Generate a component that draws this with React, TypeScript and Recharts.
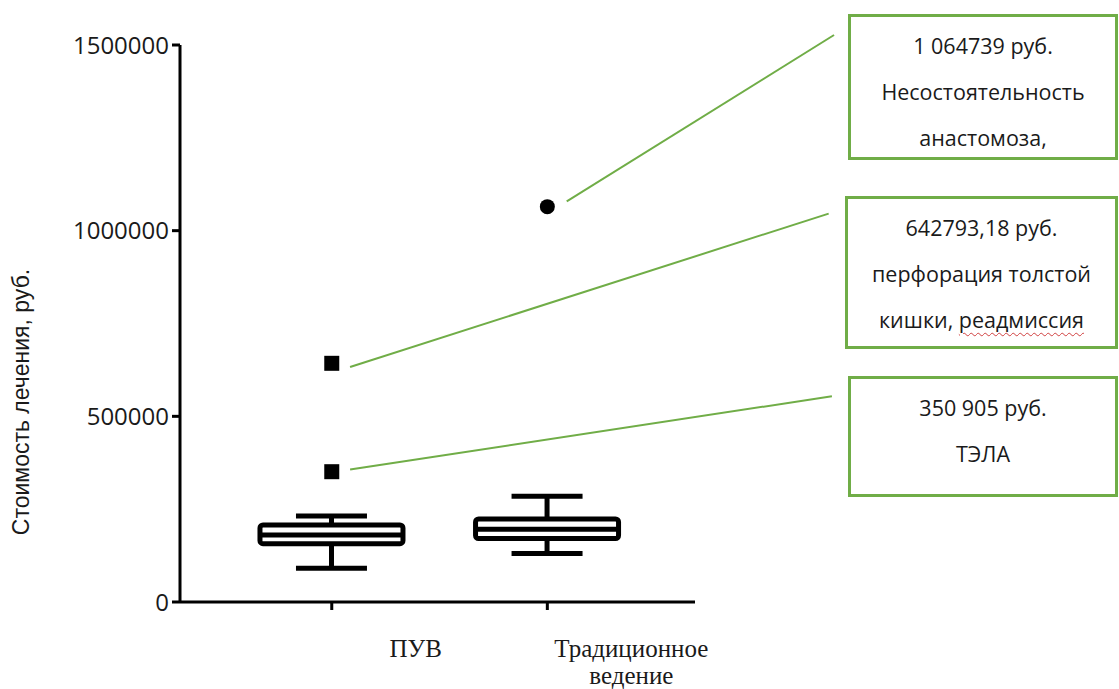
import React from 'react';
import { ComposedChart, XAxis, YAxis, Bar, Scatter, ReferenceLine } from 'recharts';

// Groups on the horizontal axis
const groupPos = [1, 2];
const groupLabels = [['ПУВ'], ['Традиционное', 'ведение']];

// Five-number summaries per group (руб.)
const whiskerLow = [91000, 130500];
const quart1 = [157000, 171000];
const medians = [180500, 196000];
const quart3 = [207500, 223500];
const whiskerHigh = [231500, 284500];

// Outlying cases
const squareOutliers = [642793.18, 350905]; // ПУВ
const circleOutliers = [1064739]; // Традиционное ведение

// Y axis ticks
const yTicks = [0, 500000, 1000000, 1500000];

// Annotation texts for the outliers
const noteLines = [
  ['1 064739 руб.', 'Несостоятельность', 'анастомоза,'],
  ['642793,18 руб.', 'перфорация толстой', 'кишки, реадмиссия'],
  ['350 905 руб.', 'ТЭЛА'],
];

const boxRows = groupPos.map((pos, i) => ({
  pos,
  lo: whiskerLow[i],
  q1: quart1[i],
  med: medians[i],
  q3: quart3[i],
  hi: whiskerHigh[i],
}));

const squareRows = squareOutliers.map((value) => ({ pos: groupPos[0], value }));
const circleRows = circleOutliers.map((value) => ({ pos: groupPos[1], value }));

const GREEN = '#70AD47';
const INK = '#000';

const BoxShape = (props: any) => {
  const { x, y, width, height, payload } = props;
  const top = Math.min(y, y + height);
  const bottom = Math.max(y, y + height);
  const { lo, q1, med, q3, hi } = payload;
  const py = (v: number) => top + ((hi - v) / (hi - lo)) * (bottom - top);
  const cx = x + width / 2;
  const cap = 71;
  const sw = 5;
  return (
    <g stroke={INK} strokeWidth={sw} fill="none">
      <line x1={cx} x2={cx} y1={py(hi)} y2={py(q3)} />
      <line x1={cx} x2={cx} y1={py(q1)} y2={py(lo)} />
      <line x1={cx - cap / 2} x2={cx + cap / 2} y1={py(hi)} y2={py(hi)} />
      <line x1={cx - cap / 2} x2={cx + cap / 2} y1={py(lo)} y2={py(lo)} />
      <rect x={x} y={py(q3)} width={width} height={py(q1) - py(q3)} fill="#fff" rx={3} strokeLinejoin="round" />
      <line x1={x} x2={x + width} y1={py(med)} y2={py(med)} />
    </g>
  );
};

const SquareMark = (props: any) => {
  const { cx, cy } = props;
  return <rect x={cx - 7.5} y={cy - 7.5} width={15} height={15} fill={INK} />;
};

const CircleMark = (props: any) => {
  const { cx, cy } = props;
  return <circle cx={cx} cy={cy} r={7.5} fill={INK} />;
};

const XTick = (props: any) => {
  const { x, y, payload } = props;
  const i = groupPos.indexOf(payload.value);
  const lines = groupLabels[i] || [];
  const lx = x + 84;
  return (
    <text x={lx} y={y} textAnchor="middle" fontFamily="'Liberation Serif', serif" fontSize={25} fill="#1a1a1a">
      {lines.map((l, k) => (
        <tspan key={k} x={lx} dy={k === 0 ? 45 : 27}>
          {l}
        </tspan>
      ))}
    </text>
  );
};

// Leader lines from each outlier to its note box (data units)
const leaders = [
  { from: { x: 2.09, y: circleOutliers[0] + 14000 }, to: { x: 3.33, y: 1527000 } },
  { from: { x: 1.085, y: squareOutliers[0] - 10000 }, to: { x: 3.305, y: 1046000 } },
  { from: { x: 1.085, y: squareOutliers[1] + 6000 }, to: { x: 3.32, y: 554000 } },
];

const noteBoxes = [
  { left: 848, top: 14, width: 270, height: 146 },
  { left: 845, top: 196, width: 273, height: 153 },
  { left: 848, top: 376, width: 270, height: 121 },
];

export default function App() {
  return (
    <div style={{ position: 'relative', width: 1119, height: 689, background: '#fff', fontFamily: "'Open Sans', sans-serif" }}>
      <style>{'body{margin:0}'}</style>
      <ComposedChart
        width={1119}
        height={689}
        data={boxRows}
        margin={{ top: 45, right: 424, bottom: 0, left: 0 }}
      >
        <XAxis
          type="number"
          dataKey="pos"
          domain={[0.296, 2.685]}
          ticks={groupPos}
          allowDataOverflow
          height={87}
          tickSize={8}
          axisLine={{ stroke: INK, strokeWidth: 3 }}
          tickLine={{ stroke: INK, strokeWidth: 3 }}
          tick={<XTick />}
          interval={0}
        />
        <YAxis
          type="number"
          domain={[0, 1500000]}
          ticks={yTicks}
          width={180}
          tickSize={8}
          tickMargin={3}
          axisLine={{ stroke: INK, strokeWidth: 3 }}
          tickLine={{ stroke: INK, strokeWidth: 3 }}
          tick={{ fontFamily: "'Open Sans', sans-serif", fontSize: 24, fill: '#1a1a1a' }}
          tickFormatter={(v: number) => String(v)}
          interval={0}
        />
        <Bar dataKey={(d: any) => [d.lo, d.hi]} barSize={143} shape={BoxShape} isAnimationActive={false} />
        <Scatter data={squareRows} dataKey="value" shape={SquareMark} isAnimationActive={false} />
        <Scatter data={circleRows} dataKey="value" shape={CircleMark} isAnimationActive={false} />
        {leaders.map((l, i) => (
          <ReferenceLine
            key={i}
            segment={[l.from, l.to]}
            stroke={GREEN}
            strokeWidth={2}
            ifOverflow="visible"
          />
        ))}
      </ComposedChart>
      <svg style={{ position: 'absolute', left: 0, top: 0 }} width={60} height={689}>
        <text
          transform="translate(21,402) rotate(-90)"
          textAnchor="middle"
          dominantBaseline="central"
          fontFamily="'Liberation Sans', Arial, sans-serif"
          fontSize={23}
          fill="#1a1a1a"
        >
          Стоимость лечения, руб.
        </text>
      </svg>
      {noteBoxes.map((b, i) => (
        <div
          key={i}
          style={{
            position: 'absolute',
            left: b.left,
            top: b.top,
            width: b.width,
            height: b.height,
            boxSizing: 'border-box',
            border: `3px solid ${GREEN}`,
            paddingTop: 6,
            textAlign: 'center',
            fontFamily: "'Open Sans', sans-serif",
            fontSize: 21.5,
            lineHeight: '46px',
            color: '#1a1a1a',
          }}
        >
          {noteLines[i].map((t, k) => {
            if (i === 1 && k === 2) {
              return (
                <div key={k}>
                  кишки,{' '}
                  <span style={{ textDecoration: 'underline wavy #d04040', textDecorationThickness: 1, textUnderlineOffset: 4 }}>
                    реадмиссия
                  </span>
                </div>
              );
            }
            return <div key={k}>{t}</div>;
          })}
        </div>
      ))}
    </div>
  );
}
